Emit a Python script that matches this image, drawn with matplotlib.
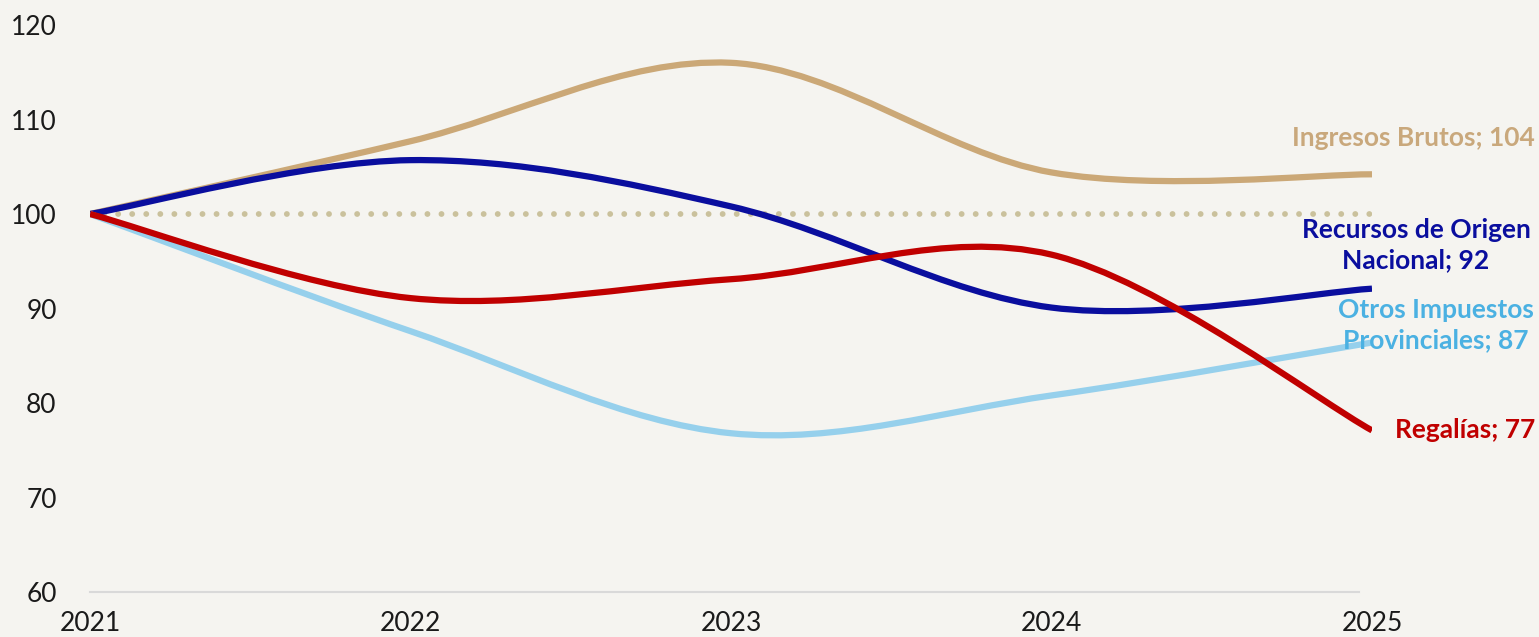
import numpy as np
import matplotlib
matplotlib.use('Agg')
import matplotlib.pyplot as plt
from matplotlib.path import Path
from matplotlib.patches import PathPatch

plt.rcParams['font.family'] = ['Lato', 'DejaVu Sans']

years = [2021, 2022, 2023, 2024, 2025]
ingresos_brutos = [100, 107.7, 116.0, 104.4, 104.2]
recursos_nacional = [100, 105.7, 100.8, 90.1, 92.1]
otros_impuestos = [100, 87.6, 76.8, 80.8, 86.4]
regalias = [100, 91.1, 93.1, 95.7, 77.1]
base_line = [100, 100]

series = [
    ('Ingresos Brutos; 104', ingresos_brutos, '#CBA877', '#C9A87C'),
    ('Recursos de Origen\nNacional; 92', recursos_nacional, '#0A0E9E', '#0A0E9E'),
    ('Otros Impuestos\nProvinciales; 87', otros_impuestos, '#96D0EC', '#4BB1E2'),
    ('Regalías; 77', regalias, '#C00000', '#C00000'),
]
# label anchors in pixels (x, y from top) and alignment
label_pos = [(1535, 138, 'right'), (1416, 245, 'center'),
             (1436, 325, 'center'), (1535, 430, 'right')]


def smooth_path(xs, ys):
    # Excel-like smoothed line: cubic Bezier segments through the points
    pts = np.column_stack([xs, ys]).astype(float)
    n = len(pts)
    verts = [pts[0]]
    codes = [Path.MOVETO]
    for i in range(n - 1):
        p0 = pts[max(i - 1, 0)]
        p1 = pts[i]
        p2 = pts[i + 1]
        p3 = pts[min(i + 2, n - 1)]
        c1 = p1 + (p2 - p0) / 6.0
        c2 = p2 - (p3 - p1) / 6.0
        verts += [c1, c2, p2]
        codes += [Path.CURVE4] * 3
    return Path(verts, codes)


W, H = 1539, 637
bg = '#F5F4F0'
fig = plt.figure(figsize=(W / 100, H / 100), dpi=100, facecolor=bg)
ax = fig.add_axes([90 / W, (H - 592) / H, (1372 - 90) / W, (592 - 25) / H])
ax.set_facecolor(bg)

ax.plot([years[0], years[-1]], base_line, color='#CAC19C', lw=4.2,
        linestyle=(0, (0.01, 2.4)), dash_capstyle='round', zorder=1)

for name, vals, lc, tc in series:
    patch = PathPatch(smooth_path(years, vals), facecolor='none', edgecolor=lc,
                      lw=4.5, capstyle='butt', joinstyle='round', zorder=2)
    ax.add_patch(patch)

for (name, vals, lc, tc), (px, py, ha) in zip(series, label_pos):
    fig.text(px / W, 1 - py / H, name, color=tc, fontsize=19, fontweight='bold',
             ha=ha, va='center', multialignment='center', linespacing=1.3)

ax.set_xlim(years[0], years[-1])
ax.set_ylim(60, 120)
ax.set_yticks(range(60, 121, 10))
ax.set_xticks(years)
for s in ['left', 'right', 'top']:
    ax.spines[s].set_visible(False)
ax.spines['bottom'].set_color('#D9D9D9')
ax.spines['bottom'].set_linewidth(1.5)
ax.spines['bottom'].set_bounds(2021, 2024.96)
ax.tick_params(axis='both', length=0, labelsize=19, colors='#1a1a1a')
ax.tick_params(axis='y', pad=24)
ax.tick_params(axis='x', pad=14)

fig.savefig('out.png', dpi=100, facecolor=bg)
